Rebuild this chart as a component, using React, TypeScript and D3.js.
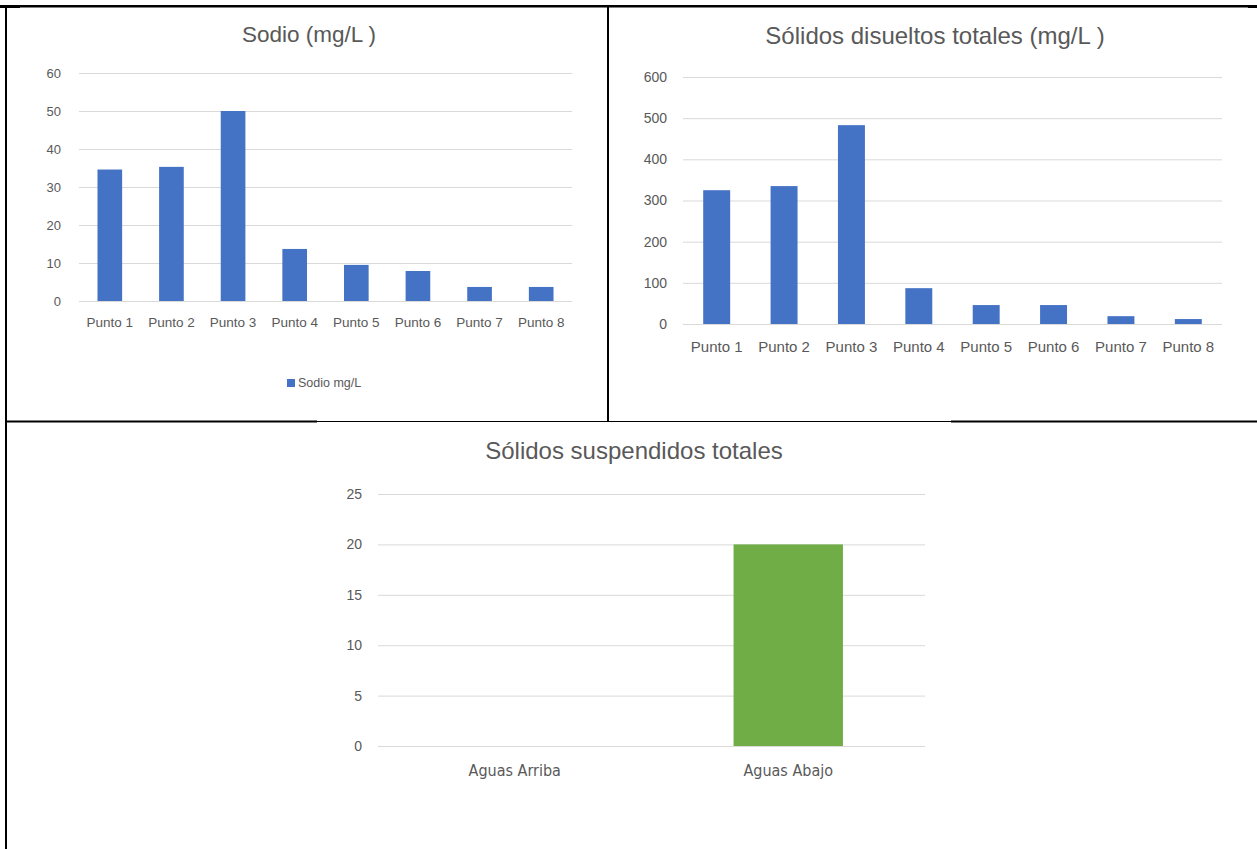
import { useEffect, useRef } from 'react'
import * as d3 from 'd3'

const puntos = ['Punto 1', 'Punto 2', 'Punto 3', 'Punto 4', 'Punto 5', 'Punto 6', 'Punto 7', 'Punto 8']
const sodio = [34.6, 35.3, 50, 13.7, 9.5, 7.9, 3.7, 3.7]
const sodioTicks = [0, 10, 20, 30, 40, 50, 60]

const disueltos = [325, 335, 483, 87, 46, 46, 19, 12]
const disueltosTicks = [0, 100, 200, 300, 400, 500, 600]

const aguas = ['Aguas Arriba', 'Aguas Abajo']
const suspendidos = [0, 20]
const suspendidosTicks = [0, 5, 10, 15, 20, 25]

const TEXT = '#595959'
const GRID = '#d9d9d9'
const FONT = "'Liberation Sans', Arial, sans-serif"
const NARROW = "'Liberation Sans Narrow', 'Arial Narrow', 'DejaVu Sans Condensed', sans-serif"

interface BarChartProps {
  title: string
  categories: string[]
  values: number[]
  ticks: number[]
  color: string
  // plot box in page coordinates
  left: number
  right: number
  top: number
  bottom: number
  titleX: number
  titleY: number
  titleSize: number
  tickSize: number
  tickGap: number
  labelSize: number
  labelY: number
  labelFont?: string
  legend?: { label: string, x: number, y: number }
}

function BarChart(p: BarChartProps) {
  const gRef = useRef<SVGGElement>(null)

  useEffect(() => {
    if (!gRef.current) return
    const g = d3.select(gRef.current)
    g.selectAll('*').remove()

    const x = d3.scaleBand()
      .domain(p.categories)
      .range([p.left, p.right])
      .paddingInner(0.6)
      .paddingOuter(0.3)

    const y = d3.scaleLinear()
      .domain([0, d3.max(p.ticks) || 0])
      .range([p.bottom, p.top])

    // title
    g.append('text')
      .attr('x', p.titleX)
      .attr('y', p.titleY)
      .attr('text-anchor', 'middle')
      .style('font-family', FONT)
      .style('font-size', `${p.titleSize}px`)
      .style('fill', TEXT)
      .text(p.title)

    // gridlines
    g.selectAll('.grid')
      .data(p.ticks)
      .enter().append('line')
      .attr('x1', p.left)
      .attr('x2', p.right)
      .attr('y1', d => y(d) + 0.5)
      .attr('y2', d => y(d) + 0.5)
      .attr('stroke', GRID)
      .attr('stroke-width', 1)

    // y labels
    g.selectAll('.ylab')
      .data(p.ticks)
      .enter().append('text')
      .attr('x', p.left - p.tickGap)
      .attr('y', d => y(d))
      .attr('dy', '0.35em')
      .attr('text-anchor', 'end')
      .style('font-family', FONT)
      .style('font-size', `${p.tickSize}px`)
      .style('fill', TEXT)
      .text(d => d)

    // bars
    g.selectAll('.bar')
      .data(p.values)
      .enter().append('rect')
      .attr('x', (d, i) => x(p.categories[i]) || 0)
      .attr('width', x.bandwidth())
      .attr('y', d => y(d))
      .attr('height', d => p.bottom - y(d))
      .attr('fill', p.color)

    // x labels
    g.selectAll('.xlab')
      .data(p.categories)
      .enter().append('text')
      .attr('x', d => (x(d) || 0) + x.bandwidth() / 2)
      .attr('y', p.labelY)
      .attr('text-anchor', 'middle')
      .style('font-family', p.labelFont || FONT)
      .style('font-size', `${p.labelSize}px`)
      .style('fill', TEXT)
      .text(d => d)

    if (p.legend) {
      g.append('rect')
        .attr('x', p.legend.x)
        .attr('y', p.legend.y - 4)
        .attr('width', 8)
        .attr('height', 8)
        .attr('fill', p.color)
      g.append('text')
        .attr('x', p.legend.x + 11)
        .attr('y', p.legend.y)
        .attr('dy', '0.35em')
        .style('font-family', FONT)
        .style('font-size', '12.5px')
        .style('fill', TEXT)
        .text(p.legend.label)
    }
  }, [p])

  return <g ref={gRef} />
}

export default function App() {
  return (
    <svg
      width={1257}
      height={849}
      style={{ position: 'absolute', left: 0, top: 0, background: '#fff' }}
    >
      <rect x={0} y={0} width={1257} height={849} fill="#fff" />

      <BarChart
        title="Sodio (mg/L )"
        categories={puntos}
        values={sodio}
        ticks={sodioTicks}
        color="#4472C4"
        left={79} right={572} top={73} bottom={301}
        titleX={309} titleY={42} titleSize={22.5}
        tickSize={13} tickGap={18} labelSize={13.5} labelY={327}
        legend={{ label: 'Sodio mg/L', x: 287, y: 383 }}
      />
      <BarChart
        title="Sólidos disueltos totales (mg/L )"
        categories={puntos}
        values={disueltos}
        ticks={disueltosTicks}
        color="#4472C4"
        left={683} right={1222} top={77} bottom={324}
        titleX={935} titleY={44} titleSize={24}
        tickSize={14} tickGap={16} labelSize={15} labelY={352}
      />
      <BarChart
        title="Sólidos suspendidos totales"
        categories={aguas}
        values={suspendidos}
        ticks={suspendidosTicks}
        color="#70AD47"
        left={378} right={925} top={494} bottom={746}
        titleX={634} titleY={459} titleSize={24}
        tickSize={14} tickGap={16} labelSize={16} labelY={776}
        labelFont={NARROW}
      />

      {/* table borders */}
      <rect x={0} y={5} width={20} height={3} fill="#000" />
      <rect x={20} y={5} width={1228} height={2.5} fill="#000" />
      <rect x={1248} y={5} width={9} height={3} fill="#000" />
      <rect x={5} y={5} width={2} height={844} fill="#000" />
      <rect x={607} y={5} width={2} height={416} fill="#000" />
      <rect x={5} y={420.5} width={312} height={2} fill="#000" />
      <rect x={317} y={421} width={634} height={1} fill="#000" />
      <rect x={951} y={420.5} width={306} height={2} fill="#000" />
    </svg>
  )
}
